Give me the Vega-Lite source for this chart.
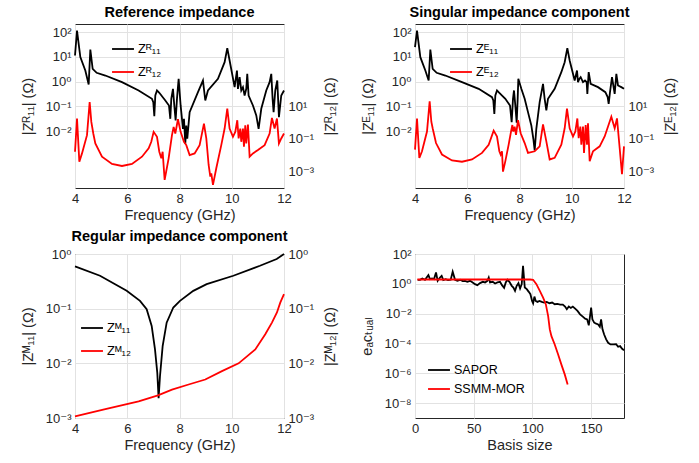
{
  "$schema": "https://vega.github.io/schema/vega-lite/v6.json",
  "background": "white",
  "padding": {"left": 19, "top": 4, "right": 2, "bottom": 2},
  "columns": 2,
  "spacing": {"row": 66, "column": 131},
  "bounds": "flush",
  "resolve": {"scale": {"color": "independent"}},
  "config": {
    "font": "Liberation Sans, DejaVu Sans",
    "view": {"stroke": "#262626", "strokeWidth": 1},
    "axis": {"labelFontSize": 13, "titleFontSize": 14.5, "titleFontWeight": "normal", "labelColor": "#262626", "titleColor": "#262626", "gridColor": "#e2e2e2", "domain": false, "ticks": false, "labelPadding": 4, "labelFlush": false, "titlePadding": 10},
    "axisX": {"titlePadding": 3},
    "title": {"fontSize": 14.5, "fontWeight": "bold", "color": "#000000", "offset": 4, "anchor": "middle"},
    "legend": {"orient": "none", "title": null, "labelFontSize": 13, "labelColor": "#000000", "symbolType": "stroke", "symbolStrokeWidth": 2, "symbolSize": 480, "labelOffset": 3},
    "line": {"strokeWidth": 1.8, "clip": true}
  },
  "concat": [
    {
      "title": "Reference impedance",
      "width": 209, "height": 164,
      "layer": [
        {
          "data": {"values": [
            {"f":4.0,"z":11.4},{"f":4.077,"z":117},{"f":4.204,"z":9.8},{"f":4.395,"z":2.82},{"f":4.523,"z":0.77},{"f":4.587,"z":20},{"f":4.676,"z":3.3},{"f":4.829,"z":2.28},{"f":5.161,"z":1.77},{"f":5.798,"z":0.955},{"f":6.436,"z":0.44},{"f":6.946,"z":0.202},{"f":6.997,"z":0.148},{"f":7.036,"z":0.04},{"f":7.074,"z":0.276},{"f":7.138,"z":0.44},{"f":7.227,"z":0.354},{"f":7.457,"z":0.173},{"f":7.597,"z":0.109},{"f":7.648,"z":0.0315},{"f":7.686,"z":0.202},{"f":7.75,"z":0.513},{"f":7.801,"z":0.109},{"f":7.852,"z":0.027},{"f":7.903,"z":0.202},{"f":7.967,"z":1.3},{"f":8.043,"z":0.109},{"f":8.133,"z":0.0124},{"f":8.171,"z":0.0315},{"f":8.222,"z":0.00308},{"f":8.26,"z":0.0169},{"f":8.298,"z":0.0049},{"f":8.388,"z":0.0586},{"f":8.707,"z":0.377},{"f":8.898,"z":1.11},{"f":8.987,"z":0.173},{"f":9.089,"z":0.44},{"f":9.472,"z":1.3},{"f":9.727,"z":6.14},{"f":9.829,"z":22.6},{"f":9.918,"z":7.16},{"f":10.11,"z":0.6},{"f":10.199,"z":2.82},{"f":10.237,"z":0.513},{"f":10.301,"z":1.52},{"f":10.365,"z":0.44},{"f":10.429,"z":0.6},{"f":10.492,"z":0.276},{"f":10.556,"z":0.513},{"f":10.594,"z":2.07},{"f":10.645,"z":0.276},{"f":10.811,"z":0.109},{"f":10.939,"z":0.043},{"f":11.028,"z":0.0124},{"f":11.13,"z":0.08},{"f":11.321,"z":0.44},{"f":11.449,"z":0.955},{"f":11.513,"z":2.07},{"f":11.564,"z":0.202},{"f":11.602,"z":0.0586},{"f":11.666,"z":0.44},{"f":11.742,"z":1.11},{"f":11.806,"z":0.0368},{"f":11.895,"z":0.276},{"f":12.0,"z":0.44}
          ]},
          "mark": {"type": "line"},
          "encoding": {
            "x": {"field": "f", "type": "quantitative", "scale": {"domain": [4, 12], "nice": false}, "axis": {"values": [4, 6, 8, 10, 12], "title": "Frequency (GHz)", "grid": true}},
            "y": {"field": "z", "type": "quantitative", "scale": {"type": "log", "domain": [5e-5, 215], "nice": false}, "axis": {"orient": "left", "values": [100, 10, 1, 0.1, 0.01], "grid": true, "title": "|Zᴿ₁₁| (Ω)", "labelExpr": "'10' + replace(replace(replace(replace(replace(replace(replace(replace(replace('' + round(log(datum.value) / LN10), '-', '⁻'), '0', '⁰'), '1', '¹'), '2', '²'), '3', '³'), '4', '⁴'), '5', '⁵'), '6', '⁶'), '8', '⁸')"}},
            "color": {"datum": "Zᴿ₁₁", "type": "nominal", "scale": {"domain": ["Zᴿ₁₁", "Zᴿ₁₂"], "range": ["#000000", "#ff0000"]}, "legend": {"legendX": 36, "legendY": 13, "rowPadding": 4}}
          }
        },
        {
          "data": {"values": [
            {"f":4.0,"z":0.0163},{"f":4.077,"z":1.71},{"f":4.166,"z":0.00404},{"f":4.268,"z":0.0129},{"f":4.459,"z":0.167},{"f":4.561,"z":17.5},{"f":4.625,"z":1.07},{"f":4.7,"z":0.21},{"f":4.778,"z":0.0521},{"f":5.033,"z":0.0081},{"f":5.416,"z":0.00292},{"f":5.798,"z":0.0022},{"f":6.181,"z":0.00292},{"f":6.564,"z":0.0081},{"f":6.819,"z":0.026},{"f":6.92,"z":0.066},{"f":7.01,"z":0.265},{"f":7.138,"z":0.132},{"f":7.227,"z":0.0163},{"f":7.304,"z":0.00643},{"f":7.355,"z":0.0163},{"f":7.431,"z":0.000313},{"f":7.584,"z":0.00643},{"f":7.712,"z":0.167},{"f":7.776,"z":0.533},{"f":7.839,"z":0.21},{"f":7.941,"z":1.56},{"f":8.043,"z":0.265},{"f":8.171,"z":0.0658},{"f":8.26,"z":0.0413},{"f":8.388,"z":0.0102},{"f":8.579,"z":0.0129},{"f":8.77,"z":0.0413},{"f":8.936,"z":0.849},{"f":9.026,"z":0.105},{"f":9.115,"z":0.00254},{"f":9.179,"z":0.000498},{"f":9.217,"z":0.00079},{"f":9.281,"z":0.000156},{"f":9.408,"z":0.00159},{"f":9.599,"z":0.0413},{"f":9.727,"z":0.423},{"f":9.829,"z":6.9},{"f":9.918,"z":0.423},{"f":10.046,"z":0.132},{"f":10.135,"z":0.265},{"f":10.212,"z":1.35},{"f":10.263,"z":0.105},{"f":10.327,"z":0.423},{"f":10.365,"z":0.0658},{"f":10.429,"z":0.423},{"f":10.467,"z":0.0327},{"f":10.518,"z":0.673},{"f":10.556,"z":0.0521},{"f":10.62,"z":0.74},{"f":10.684,"z":0.0081},{"f":10.811,"z":0.0129},{"f":11.003,"z":0.0206},{"f":11.258,"z":0.0413},{"f":11.449,"z":0.21},{"f":11.538,"z":1.87},{"f":11.64,"z":0.423},{"f":11.73,"z":1.71},{"f":11.806,"z":0.0521},{"f":11.895,"z":0.105},{"f":12.0,"z":0.21}
          ]},
          "mark": {"type": "line"},
          "encoding": {
            "x": {"field": "f", "type": "quantitative"},
            "y": {"field": "z", "type": "quantitative", "scale": {"type": "log", "domain": [1e-4, 1e6], "nice": false}, "axis": {"orient": "right", "values": [10, 0.1, 0.001], "grid": false, "title": "|Zᴿ₁₂| (Ω)", "titleAngle": 270, "titleBaseline": "top", "labelExpr": "'10' + replace(replace(replace(replace(replace(replace(replace(replace(replace('' + round(log(datum.value) / LN10), '-', '⁻'), '0', '⁰'), '1', '¹'), '2', '²'), '3', '³'), '4', '⁴'), '5', '⁵'), '6', '⁶'), '8', '⁸')"}},
            "color": {"datum": "Zᴿ₁₂", "type": "nominal"}
          }
        }
      ],
      "resolve": {"scale": {"y": "independent"}}
    },
    {
      "title": "Singular impedance component",
      "width": 209, "height": 164,
      "layer": [
        {
          "data": {"values": [
            {"f":4.0,"z":25},{"f":4.077,"z":117},{"f":4.204,"z":9.8},{"f":4.396,"z":2.82},{"f":4.523,"z":1.11},{"f":4.587,"z":20},{"f":4.676,"z":3.3},{"f":4.829,"z":2.28},{"f":5.161,"z":1.77},{"f":5.799,"z":0.955},{"f":6.437,"z":0.513},{"f":6.947,"z":0.237},{"f":6.998,"z":0.173},{"f":7.037,"z":0.05},{"f":7.075,"z":0.276},{"f":7.139,"z":0.44},{"f":7.228,"z":0.354},{"f":7.458,"z":0.202},{"f":7.636,"z":0.109},{"f":7.7,"z":0.0231},{"f":7.751,"z":0.202},{"f":7.789,"z":0.44},{"f":7.84,"z":0.109},{"f":7.892,"z":0.0217},{"f":7.93,"z":0.202},{"f":7.955,"z":1.3},{"f":8.07,"z":0.513},{"f":8.198,"z":0.202},{"f":8.325,"z":0.0586},{"f":8.453,"z":0.0169},{"f":8.53,"z":0.0049},{"f":8.581,"z":0.00166},{"f":8.644,"z":0.0124},{"f":8.772,"z":0.148},{"f":8.9,"z":0.817},{"f":8.963,"z":0.202},{"f":9.027,"z":0.0684},{"f":9.091,"z":0.202},{"f":9.346,"z":0.513},{"f":9.601,"z":2.42},{"f":9.729,"z":6.14},{"f":9.831,"z":22.6},{"f":9.92,"z":7.16},{"f":10.112,"z":1.11},{"f":10.201,"z":2.82},{"f":10.239,"z":0.955},{"f":10.29,"z":1.3},{"f":10.341,"z":1.52},{"f":10.431,"z":0.955},{"f":10.507,"z":1.11},{"f":10.571,"z":0.955},{"f":10.597,"z":0.322},{"f":10.648,"z":2.42},{"f":10.724,"z":0.817},{"f":11.005,"z":0.6},{"f":11.286,"z":0.377},{"f":11.375,"z":0.237},{"f":11.413,"z":0.127},{"f":11.464,"z":0.377},{"f":11.541,"z":1.52},{"f":11.592,"z":0.7},{"f":11.643,"z":0.322},{"f":11.707,"z":2.07},{"f":11.77,"z":0.7},{"f":11.898,"z":0.6},{"f":12.0,"z":0.513}
          ]},
          "mark": {"type": "line"},
          "encoding": {
            "x": {"field": "f", "type": "quantitative", "scale": {"domain": [4, 12], "nice": false}, "axis": {"values": [4, 6, 8, 10, 12], "title": "Frequency (GHz)", "grid": true}},
            "y": {"field": "z", "type": "quantitative", "scale": {"type": "log", "domain": [5e-5, 215], "nice": false}, "axis": {"orient": "left", "values": [100, 10, 1, 0.1, 0.01], "grid": true, "title": "|Zᴱ₁₁| (Ω)", "labelExpr": "'10' + replace(replace(replace(replace(replace(replace(replace(replace(replace('' + round(log(datum.value) / LN10), '-', '⁻'), '0', '⁰'), '1', '¹'), '2', '²'), '3', '³'), '4', '⁴'), '5', '⁵'), '6', '⁶'), '8', '⁸')"}},
            "color": {"datum": "Zᴱ₁₁", "type": "nominal", "scale": {"domain": ["Zᴱ₁₁", "Zᴱ₁₂"], "range": ["#000000", "#ff0000"]}, "legend": {"legendX": 34, "legendY": 13, "rowPadding": 4}}
          }
        },
        {
          "data": {"values": [
            {"f":4.0,"z":0.0219},{"f":4.077,"z":1.74},{"f":4.166,"z":0.0069},{"f":4.268,"z":0.0174},{"f":4.459,"z":0.275},{"f":4.561,"z":19},{"f":4.625,"z":1.1},{"f":4.676,"z":0.437},{"f":4.804,"z":0.055},{"f":5.033,"z":0.011},{"f":5.416,"z":0.0048},{"f":5.799,"z":0.004},{"f":6.182,"z":0.0055},{"f":6.565,"z":0.0138},{"f":6.82,"z":0.0437},{"f":7.011,"z":0.316},{"f":7.139,"z":0.138},{"f":7.228,"z":0.0174},{"f":7.279,"z":0.011},{"f":7.33,"z":0.0174},{"f":7.368,"z":0.001},{"f":7.458,"z":0.00437},{"f":7.585,"z":0.0437},{"f":7.675,"z":0.275},{"f":7.726,"z":0.69},{"f":7.764,"z":0.275},{"f":7.815,"z":0.55},{"f":7.866,"z":0.174},{"f":7.943,"z":1.38},{"f":8.045,"z":0.219},{"f":8.198,"z":0.055},{"f":8.325,"z":0.0138},{"f":8.581,"z":0.0174},{"f":8.772,"z":0.0347},{"f":8.9,"z":0.76},{"f":9.027,"z":0.069},{"f":9.155,"z":0.0055},{"f":9.346,"z":0.0069},{"f":9.601,"z":0.0437},{"f":9.729,"z":0.437},{"f":9.818,"z":6.9},{"f":9.92,"z":0.437},{"f":10.048,"z":0.138},{"f":10.137,"z":0.275},{"f":10.214,"z":1.74},{"f":10.265,"z":0.11},{"f":10.329,"z":0.55},{"f":10.367,"z":0.0437},{"f":10.431,"z":0.55},{"f":10.469,"z":0.0138},{"f":10.533,"z":0.69},{"f":10.584,"z":0.0437},{"f":10.622,"z":0.87},{"f":10.686,"z":0.00437},{"f":10.814,"z":0.0174},{"f":11.069,"z":0.0347},{"f":11.26,"z":0.138},{"f":11.515,"z":2.19},{"f":11.643,"z":0.437},{"f":11.732,"z":1.74},{"f":11.834,"z":0.0275},{"f":11.923,"z":0.00069},{"f":12.0,"z":0.0347}
          ]},
          "mark": {"type": "line"},
          "encoding": {
            "x": {"field": "f", "type": "quantitative"},
            "y": {"field": "z", "type": "quantitative", "scale": {"type": "log", "domain": [1e-4, 1e6], "nice": false}, "axis": {"orient": "right", "values": [10, 0.1, 0.001], "grid": false, "title": "|Zᴱ₁₂| (Ω)", "titleAngle": 270, "titleBaseline": "top", "labelExpr": "'10' + replace(replace(replace(replace(replace(replace(replace(replace(replace('' + round(log(datum.value) / LN10), '-', '⁻'), '0', '⁰'), '1', '¹'), '2', '²'), '3', '³'), '4', '⁴'), '5', '⁵'), '6', '⁶'), '8', '⁸')"}},
            "color": {"datum": "Zᴱ₁₂", "type": "nominal"}
          }
        }
      ],
      "resolve": {"scale": {"y": "independent"}}
    },
    {
      "title": "Regular impedance component",
      "width": 209, "height": 164,
      "layer": [
        {
          "data": {"values": [
            {"f":4.0,"z":0.594},{"f":4.957,"z":0.4},{"f":5.978,"z":0.212},{"f":6.488,"z":0.139},{"f":6.743,"z":0.0977},{"f":6.935,"z":0.0482},{"f":7.062,"z":0.018},{"f":7.15,"z":0.0067},{"f":7.2,"z":0.0023},{"f":7.253,"z":0.0058},{"f":7.355,"z":0.0207},{"f":7.508,"z":0.0555},{"f":7.763,"z":0.105},{"f":8.018,"z":0.139},{"f":8.528,"z":0.212},{"f":9.04,"z":0.281},{"f":10.06,"z":0.4},{"f":11.08,"z":0.61},{"f":11.72,"z":0.81},{"f":12.0,"z":1.0}
          ]},
          "mark": {"type": "line"},
          "encoding": {
            "x": {"field": "f", "type": "quantitative", "scale": {"domain": [4, 12], "nice": false}, "axis": {"values": [4, 6, 8, 10, 12], "title": "Frequency (GHz)", "grid": true}},
            "y": {"field": "z", "type": "quantitative", "scale": {"type": "log", "domain": [0.001, 1], "nice": false}, "axis": {"orient": "left", "values": [1, 0.1, 0.01, 0.001], "grid": true, "title": "|Zᴹ₁₁| (Ω)", "labelExpr": "'10' + replace(replace(replace(replace(replace(replace(replace(replace(replace('' + round(log(datum.value) / LN10), '-', '⁻'), '0', '⁰'), '1', '¹'), '2', '²'), '3', '³'), '4', '⁴'), '5', '⁵'), '6', '⁶'), '8', '⁸')"}},
            "color": {"datum": "Zᴹ₁₁", "type": "nominal", "scale": {"domain": ["Zᴹ₁₁", "Zᴹ₁₂"], "range": ["#000000", "#ff0000"]}, "legend": {"legendX": 5, "legendY": 62, "rowPadding": 4}}
          }
        },
        {
          "data": {"values": [
            {"f":4.0,"z":0.00107},{"f":5.161,"z":0.00146},{"f":6.436,"z":0.00202},{"f":7.176,"z":0.0026},{"f":7.712,"z":0.0033},{"f":8.349,"z":0.0041},{"f":8.987,"z":0.00506},{"f":9.625,"z":0.0072},{"f":10.263,"z":0.01},{"f":10.901,"z":0.018},{"f":11.283,"z":0.034},{"f":11.538,"z":0.0556},{"f":11.73,"z":0.085},{"f":11.857,"z":0.129},{"f":12.0,"z":0.184}
          ]},
          "mark": {"type": "line"},
          "encoding": {
            "x": {"field": "f", "type": "quantitative"},
            "y": {"field": "z", "type": "quantitative", "scale": {"type": "log", "domain": [0.001, 1], "nice": false}, "axis": {"orient": "right", "values": [1, 0.1, 0.01, 0.001], "grid": false, "title": "|Zᴹ₁₂| (Ω)", "titleAngle": 270, "titleBaseline": "top", "labelExpr": "'10' + replace(replace(replace(replace(replace(replace(replace(replace(replace('' + round(log(datum.value) / LN10), '-', '⁻'), '0', '⁰'), '1', '¹'), '2', '²'), '3', '³'), '4', '⁴'), '5', '⁵'), '6', '⁶'), '8', '⁸')"}},
            "color": {"datum": "Zᴹ₁₂", "type": "nominal"}
          }
        }
      ],
      "resolve": {"scale": {"y": "independent"}}
    },
    {
      "width": 209, "height": 164,
      "layer": [
        {
          "data": {"values": [
            {"n":2.3,"e":1.86},{"n":4.3,"e":1.86},{"n":6.25,"e":2.29},{"n":8.5,"e":1.86},{"n":9.9,"e":2.67},{"n":11.4,"e":3.84},{"n":12.8,"e":2.07},{"n":14.5,"e":2.29},{"n":16.2,"e":2.07},{"n":17.9,"e":5.8},{"n":19.3,"e":1.59},{"n":21.3,"e":2.67},{"n":22.7,"e":3.46},{"n":24.1,"e":1.77},{"n":26.1,"e":2.07},{"n":28.1,"e":1.77},{"n":30.4,"e":1.86},{"n":32.1,"e":6.44},{"n":34.1,"e":1.86},{"n":36.1,"e":1.59},{"n":38.4,"e":1.86},{"n":40.6,"e":1.51},{"n":42.6,"e":1.59},{"n":44.6,"e":1.36},{"n":46.9,"e":1.59},{"n":49.1,"e":1.23},{"n":51.1,"e":0.95},{"n":53.1,"e":0.81},{"n":55.4,"e":1.11},{"n":57.7,"e":1.36},{"n":59.7,"e":1.23},{"n":61.6,"e":1.59},{"n":62.8,"e":2.67},{"n":63.9,"e":1.23},{"n":66.2,"e":1.36},{"n":68.2,"e":1.05},{"n":70.2,"e":1.23},{"n":72.4,"e":1.36},{"n":74.1,"e":0.81},{"n":75.9,"e":0.54},{"n":77.3,"e":1.23},{"n":78.7,"e":1.86},{"n":80.4,"e":1.36},{"n":82.4,"e":0.733},{"n":83.8,"e":0.566},{"n":85.2,"e":0.337},{"n":86.6,"e":0.733},{"n":88.1,"e":1.11},{"n":89.5,"e":0.484},{"n":90.9,"e":0.95},{"n":92.0,"e":16.3},{"n":93.5,"e":0.566},{"n":95.2,"e":0.437},{"n":96.9,"e":0.289},{"n":98.3,"e":0.201},{"n":99.7,"e":0.0714},{"n":100.6,"e":0.0498},{"n":101.7,"e":0.14},{"n":102.8,"e":0.0714},{"n":104.3,"e":0.0612},{"n":106,"e":0.0714},{"n":108,"e":0.0612},{"n":109.9,"e":0.0552},{"n":112.2,"e":0.0612},{"n":114.5,"e":0.0498},{"n":116.8,"e":0.0552},{"n":119,"e":0.0427},{"n":121.3,"e":0.0449},{"n":123.6,"e":0.0405},{"n":125.9,"e":0.0405},{"n":127.8,"e":0.0297},{"n":129.3,"e":0.0196},{"n":131,"e":0.0297},{"n":132.7,"e":0.0241},{"n":134.4,"e":0.0297},{"n":136.4,"e":0.0217},{"n":138.4,"e":0.0151},{"n":140.6,"e":0.009},{"n":142.9,"e":0.00628},{"n":144.9,"e":0.0046},{"n":146.6,"e":0.00415},{"n":148,"e":0.00163},{"n":149.1,"e":0.00697},{"n":150,"e":0.0254},{"n":151.1,"e":0.00415},{"n":152.6,"e":0.00247},{"n":154.3,"e":0.00212},{"n":156,"e":0.0019},{"n":157.4,"e":0.00133},{"n":158.5,"e":0.00415},{"n":159.7,"e":0.00088},{"n":161.1,"e":0.0004},{"n":162.8,"e":0.000186},{"n":164.5,"e":0.000111},{"n":166.5,"e":0.000086},{"n":169,"e":0.000086},{"n":171.3,"e":0.00009},{"n":173,"e":0.00006},{"n":174.7,"e":0.000066},{"n":176.4,"e":0.000044},{"n":178,"e":0.000035}
          ]},
          "mark": {"type": "line"},
          "encoding": {
            "x": {"field": "n", "type": "quantitative", "scale": {"domain": [0, 178], "nice": false}, "axis": {"values": [0, 50, 100, 150], "title": "Basis size", "grid": true}},
            "y": {"field": "e", "type": "quantitative", "scale": {"type": "log", "domain": [1e-9, 100], "nice": false}, "axis": {"orient": "left", "values": [100, 1, 0.01, 0.0001, 0.000001, 0.00000001], "grid": true, "title": "eₐcₜᵤₐₗ", "labelExpr": "'10' + replace(replace(replace(replace(replace(replace(replace(replace(replace('' + round(log(datum.value) / LN10), '-', '⁻'), '0', '⁰'), '1', '¹'), '2', '²'), '3', '³'), '4', '⁴'), '5', '⁵'), '6', '⁶'), '8', '⁸')"}},
            "color": {"datum": "SAPOR", "type": "nominal", "scale": {"domain": ["SAPOR", "SSMM-MOR"], "range": ["#000000", "#ff0000"]}, "legend": {"legendX": 12, "legendY": 104, "rowPadding": 0, "labelFontSize": 12.5}}
          }
        },
        {
          "data": {"values": [
            {"n":2,"e":1.95},{"n":98,"e":1.95},{"n":100.6,"e":1.86},{"n":103.4,"e":0.95},{"n":106.3,"e":0.34},{"n":109.1,"e":0.12},{"n":111.4,"e":0.043},{"n":113.4,"e":0.0069},{"n":114.8,"e":0.00087},{"n":116.2,"e":0.00031},{"n":119,"e":0.000085},{"n":121.9,"e":0.000018},{"n":124.7,"e":0.0000038},{"n":127.6,"e":0.00000081},{"n":130,"e":0.00000018}
          ]},
          "mark": {"type": "line"},
          "encoding": {
            "x": {"field": "n", "type": "quantitative"},
            "y": {"field": "e", "type": "quantitative"},
            "color": {"datum": "SSMM-MOR", "type": "nominal"}
          }
        }
      ]
    }
  ]
}
